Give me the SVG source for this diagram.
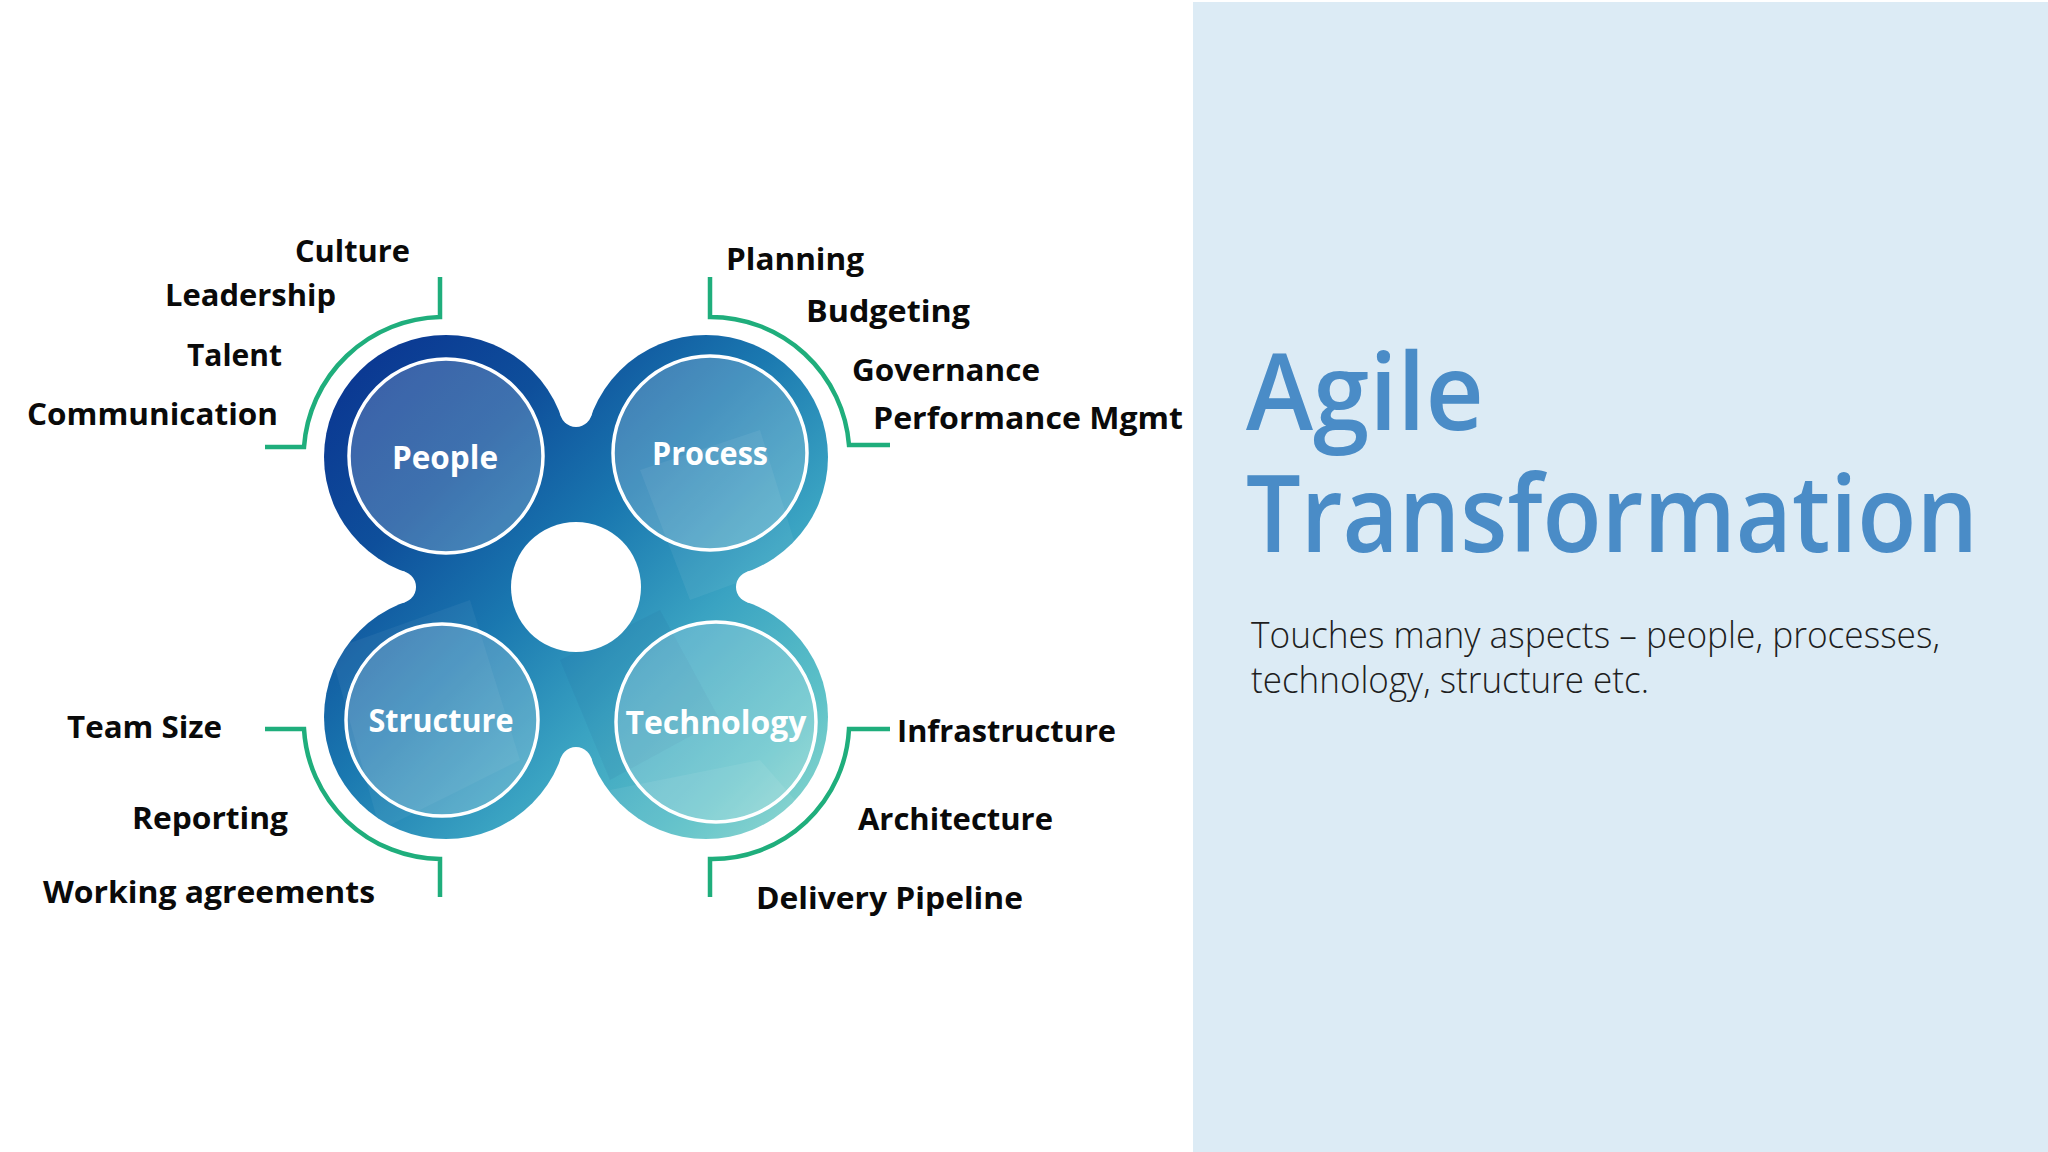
<svg xmlns="http://www.w3.org/2000/svg" width="2048" height="1152" viewBox="0 0 2048 1152">
<style>
.lbl{font-family:"Open Sans","Noto Sans","Liberation Sans",sans-serif;font-weight:700;font-size:30px;fill:#0a0a0a}
.node-txt{font-family:"Open Sans","Noto Sans","Liberation Sans",sans-serif;font-weight:700;font-size:32px;fill:#ffffff;text-anchor:middle}
.inner{fill:#ffffff;fill-opacity:0.2;stroke:#ffffff;stroke-width:3.5}
.bracket{fill:none;stroke:#1fae7c;stroke-width:4.5}
.title{font-family:"Open Sans","Noto Sans","Liberation Sans",sans-serif;font-weight:600;font-size:106px;fill:#4a8cc7}
.sub{font-family:"Open Sans","Noto Sans","Liberation Sans",sans-serif;font-weight:300;font-size:36px;fill:#1e1e1e}
</style>
<defs>
<linearGradient id="blobGrad" gradientUnits="userSpaceOnUse" x1="330" y1="340" x2="830" y2="840">
<stop offset="0" stop-color="#0a3290"/>
<stop offset="0.25" stop-color="#0e4f9b"/>
<stop offset="0.45" stop-color="#1a78b0"/>
<stop offset="0.65" stop-color="#3aa3c2"/>
<stop offset="0.85" stop-color="#5ec2c8"/>
<stop offset="1" stop-color="#95dbcf"/>
</linearGradient>
<mask id="blobMask" maskUnits="userSpaceOnUse" x="0" y="0" width="2048" height="1152">
<g fill="#ffffff">
<circle cx="446" cy="457" r="122"/>
<circle cx="706" cy="457" r="122"/>
<circle cx="446" cy="717" r="122"/>
<circle cx="706" cy="717" r="122"/>
<polygon points="446,457 576,411 706,457 752,587 706,717 576,763 446,717 400,587"/>
</g>
<g fill="#000000">
<circle cx="576" cy="411" r="16"/>
<circle cx="752" cy="587" r="16"/>
<circle cx="576" cy="763" r="16"/>
<circle cx="400" cy="587" r="16"/>
<circle cx="576" cy="587" r="65"/>
</g>
</mask>
</defs>
<rect x="0" y="0" width="2048" height="1152" fill="#ffffff"/>
<rect x="1193" y="2" width="855" height="1150" fill="#dcebf5"/>

<g id="blob" mask="url(#blobMask)">
<rect x="300" y="320" width="560" height="560" fill="url(#blobGrad)"/>
<polygon points="330,650 470,600 520,760 380,830" fill="#ffffff" opacity="0.05"/>
<polygon points="640,470 760,430 800,560 690,600" fill="#ffffff" opacity="0.06"/>
<polygon points="560,660 660,610 720,720 610,780" fill="#0a3a70" opacity="0.06"/>
<polygon points="610,790 760,760 830,840 640,860" fill="#ffffff" opacity="0.07"/>
</g>

<g id="connectors">
<path class="bracket" d="M440,277 V317 A140,140 0 0 0 304,447 H265"/>
<path class="bracket" d="M710,277 V317 A139,139 0 0 1 849,445 H890"/>
<path class="bracket" d="M265,729 H304 A138,138 0 0 0 440,859 V897"/>
<path class="bracket" d="M890,729 H849 A137,137 0 0 1 710,859 V897"/>
</g>

<g id="node-people">
<circle class="inner" cx="446" cy="456" r="97"/>
<text class="node-txt" x="445" y="469" textLength="106" lengthAdjust="spacingAndGlyphs">People</text>
</g>
<g id="node-process">
<circle class="inner" cx="710" cy="453" r="97"/>
<text class="node-txt" x="710" y="465" textLength="116" lengthAdjust="spacingAndGlyphs">Process</text>
</g>
<g id="node-structure">
<circle class="inner" cx="442" cy="720" r="96"/>
<text class="node-txt" x="441" y="732" textLength="145" lengthAdjust="spacingAndGlyphs">Structure</text>
</g>
<g id="node-technology">
<circle class="inner" cx="716" cy="722" r="100"/>
<text class="node-txt" x="716" y="734" textLength="181" lengthAdjust="spacingAndGlyphs">Technology</text>
</g>

<g id="labels-people">
<text class="lbl" x="295" y="262" textLength="115" lengthAdjust="spacingAndGlyphs">Culture</text>
<text class="lbl" x="165" y="306" textLength="171" lengthAdjust="spacingAndGlyphs">Leadership</text>
<text class="lbl" x="187" y="366" textLength="95" lengthAdjust="spacingAndGlyphs">Talent</text>
<text class="lbl" x="27" y="425" textLength="251" lengthAdjust="spacingAndGlyphs">Communication</text>
</g>
<g id="labels-process">
<text class="lbl" x="726" y="270" textLength="138" lengthAdjust="spacingAndGlyphs">Planning</text>
<text class="lbl" x="806" y="322" textLength="164" lengthAdjust="spacingAndGlyphs">Budgeting</text>
<text class="lbl" x="852" y="381" textLength="188" lengthAdjust="spacingAndGlyphs">Governance</text>
<text class="lbl" x="873" y="429" textLength="310" lengthAdjust="spacingAndGlyphs">Performance Mgmt</text>
</g>
<g id="labels-structure">
<text class="lbl" x="67" y="738" textLength="155" lengthAdjust="spacingAndGlyphs">Team Size</text>
<text class="lbl" x="132" y="829" textLength="156" lengthAdjust="spacingAndGlyphs">Reporting</text>
<text class="lbl" x="43" y="903" textLength="332" lengthAdjust="spacingAndGlyphs">Working agreements</text>
</g>
<g id="labels-technology">
<text class="lbl" x="897" y="742" textLength="219" lengthAdjust="spacingAndGlyphs">Infrastructure</text>
<text class="lbl" x="858" y="830" textLength="195" lengthAdjust="spacingAndGlyphs">Architecture</text>
<text class="lbl" x="756" y="909" textLength="267" lengthAdjust="spacingAndGlyphs">Delivery Pipeline</text>
</g>

<g id="title">
<text class="title" x="1246" y="430" textLength="238" lengthAdjust="spacingAndGlyphs">Agile</text>
<text class="title" x="1246" y="552" textLength="732" lengthAdjust="spacingAndGlyphs">Transformation</text>
<text class="sub" x="1251" y="648" textLength="689" lengthAdjust="spacingAndGlyphs">Touches many aspects – people, processes,</text>
<text class="sub" x="1251" y="693" textLength="398" lengthAdjust="spacingAndGlyphs">technology, structure etc.</text>
</g>
</svg>
